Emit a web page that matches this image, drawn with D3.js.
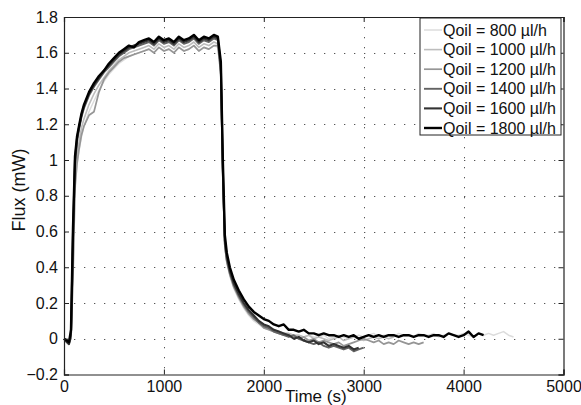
<!DOCTYPE html>
<html>
<head>
<meta charset="utf-8">
<script src="https://cdn.jsdelivr.net/npm/d3@7/dist/d3.min.js"></script>
<style>
  html, body { margin: 0; padding: 0; background: #fff; }
  svg { display: block; font-family: "Liberation Sans", Arial, Helvetica, sans-serif; }
</style>
</head>
<body>
<svg id="chart" width="581" height="405"></svg>
<script>
// ---------- DATA ----------
const seriesLabels = ["Qoil = 800 µl/h", "Qoil = 1000 µl/h", "Qoil = 1200 µl/h",
                      "Qoil = 1400 µl/h", "Qoil = 1600 µl/h", "Qoil = 1800 µl/h"];

// sampling times (s); each series uses the first N entries
const timeGrid = [0, 30, 50, 70, 90, 110, 130, 150, 175, 200,
  250, 300, 350, 400, 450, 500, 550, 600, 650, 700, 750, 800, 850, 900, 950, 1000,
  1050, 1100, 1150, 1200, 1250, 1300, 1350, 1400, 1450, 1500,
  1540, 1570, 1590, 1610, 1630, 1660, 1700, 1750, 1800, 1850, 1900, 1950, 2000,
  2050, 2100, 2150, 2200, 2250, 2300, 2350, 2400, 2450, 2500,
  2550, 2600, 2650, 2700, 2750, 2800, 2850, 2900, 2950, 3000,
  3050, 3100, 3150, 3200, 3250, 3300, 3350, 3400, 3450, 3500,
  3550, 3600, 3650, 3700, 3750, 3800, 3850, 3900, 3950, 4000,
  4050, 4100, 4150, 4200, 4250, 4300, 4350, 4400, 4450, 4500];

const flux800 = [0, 0.0, -0.01, 0.0, 0.30, 0.82, 0.97, 1.05, 1.13, 1.19,
  1.27, 1.33, 1.39, 1.44, 1.48, 1.51, 1.54, 1.56, 1.58, 1.59, 1.60,
  1.61, 1.62, 1.60, 1.63, 1.61, 1.62, 1.60, 1.63, 1.61, 1.62, 1.64, 1.61, 1.63, 1.62, 1.64,
  1.63, 1.47, 0.89, 0.51, 0.42, 0.35, 0.28, 0.22, 0.17, 0.13, 0.10, 0.08, 0.06,
  0.05, 0.04, 0.04, 0.03, 0.03, 0.02, 0.02, 0.01, 0.02, 0.01,
  0.01, 0.02, 0.00, 0.01, 0.02, 0.01, 0.00, 0.01, 0.02, 0.01,
  0.02, 0.03, 0.01, 0.02, 0.02, 0.01, 0.03, 0.02, 0.02, 0.01,
  0.03, 0.02, 0.02, 0.03, 0.01, 0.02, 0.03, 0.02, 0.02, 0.03,
  0.02, 0.01, 0.03, 0.02, 0.03, 0.02, 0.03, 0.04, 0.02, 0.01];

const flux1000 = [0, -0.01, -0.01, 0.0, 0.40, 0.90, 1.03, 1.10, 1.18, 1.23,
  1.31, 1.37, 1.42, 1.46, 1.50, 1.53, 1.56, 1.58, 1.60, 1.61, 1.62,
  1.63, 1.64, 1.62, 1.65, 1.63, 1.64, 1.62, 1.65, 1.63, 1.64, 1.66, 1.63, 1.65, 1.64, 1.66,
  1.65, 1.49, 0.91, 0.52, 0.43, 0.36, 0.29, 0.23, 0.18, 0.14, 0.11, 0.09, 0.07,
  0.06, 0.05, 0.04, 0.03, 0.03, 0.02, 0.02, 0.01, 0.02, 0.00,
  0.01, 0.00, -0.01, 0.00, 0.01, -0.01, 0.00, 0.01, 0.00, -0.01,
  0.00, 0.01, 0.00, 0.01, 0.00, 0.01];

const flux1200 = [0, -0.01, -0.02, 0.0, 0.35, 0.85, 0.98, 1.06, 1.14, 1.19,
  1.25, 1.27, 1.38, 1.45, 1.49, 1.52, 1.55, 1.57, 1.58, 1.59, 1.60,
  1.61, 1.62, 1.60, 1.63, 1.61, 1.62, 1.60, 1.63, 1.61, 1.62, 1.64, 1.61, 1.63, 1.62, 1.64,
  1.64, 1.48, 0.90, 0.52, 0.43, 0.36, 0.29, 0.23, 0.18, 0.14, 0.11, 0.09, 0.06,
  0.05, 0.04, 0.03, 0.02, 0.02, 0.01, 0.00, 0.01, -0.01, 0.00,
  -0.02, -0.01, -0.02, -0.03, -0.02, -0.04, -0.03, -0.02, -0.01, 0.00,
  -0.01, -0.02, -0.01, -0.03, -0.02, -0.03, -0.01, -0.02, -0.03, -0.02,
  -0.03, -0.02];

const flux1400 = [0, -0.02, -0.03, 0.02, 0.52, 0.97, 1.10, 1.17, 1.24, 1.29,
  1.36, 1.41, 1.45, 1.49, 1.52, 1.55, 1.58, 1.60, 1.62, 1.63, 1.64,
  1.65, 1.66, 1.64, 1.67, 1.65, 1.66, 1.64, 1.67, 1.65, 1.66, 1.68, 1.65, 1.67, 1.66, 1.68,
  1.67, 1.50, 0.92, 0.53, 0.44, 0.37, 0.30, 0.24, 0.19, 0.15, 0.12, 0.09, 0.07,
  0.06, 0.04, 0.03, 0.02, 0.01, 0.02, 0.00, -0.01, -0.02, -0.03,
  -0.02, -0.04, -0.05, -0.04, -0.05, -0.06, -0.05, -0.07, -0.06, -0.05];

const flux1600 = [0, -0.02, -0.03, 0.03, 0.58, 1.00, 1.12, 1.18, 1.25, 1.30,
  1.37, 1.42, 1.46, 1.50, 1.53, 1.56, 1.59, 1.61, 1.63, 1.64, 1.65,
  1.66, 1.67, 1.65, 1.68, 1.66, 1.67, 1.65, 1.68, 1.66, 1.67, 1.69, 1.66, 1.68, 1.67, 1.69,
  1.68, 1.52, 0.95, 0.55, 0.46, 0.38, 0.31, 0.25, 0.20, 0.16, 0.13, 0.10, 0.08,
  0.07, 0.05, 0.04, 0.03, 0.02, 0.00, 0.01, -0.01, -0.02, -0.01,
  -0.03, -0.02, -0.04, -0.03, -0.04, -0.05, -0.04, -0.06, -0.05];

const flux1800 = [0, -0.01, -0.02, 0.05, 0.62, 1.02, 1.13, 1.19, 1.26, 1.31,
  1.38, 1.43, 1.47, 1.50, 1.54, 1.57, 1.60, 1.62, 1.64, 1.63, 1.66,
  1.67, 1.68, 1.66, 1.69, 1.67, 1.68, 1.66, 1.69, 1.67, 1.68, 1.70, 1.67, 1.69, 1.68, 1.70,
  1.69, 1.55, 1.00, 0.58, 0.48, 0.40, 0.33, 0.27, 0.22, 0.18, 0.15, 0.13, 0.11,
  0.10, 0.08, 0.07, 0.08, 0.05, 0.05, 0.04, 0.05, 0.03, 0.03,
  0.02, 0.03, 0.02, 0.02, 0.01, 0.02, 0.01, 0.02, 0.00, 0.01,
  0.02, 0.01, 0.02, 0.01, 0.02, 0.02, 0.01, 0.02, 0.02, 0.01,
  0.02, 0.02, 0.01, 0.02, 0.02, 0.01, 0.03, 0.02, 0.01, 0.02,
  0.04, 0.01, 0.03, 0.02];

const xTicks = [0, 1000, 2000, 3000, 4000, 5000];
const yTicks = [-0.2, 0, 0.2, 0.4, 0.6, 0.8, 1, 1.2, 1.4, 1.6, 1.8];
const xTitle = "Time (s)";
const yTitle = "Flux (mW)";

// ---------- STYLE ----------
const seriesValues = [flux800, flux1000, flux1200, flux1400, flux1600, flux1800];
const seriesColors = ["#dcdcdc", "#bdbdbd", "#969696", "#636363", "#333333", "#000000"];
const seriesWidths = [1.5, 1.6, 1.7, 1.9, 2.1, 2.4];

const svg = d3.select("#chart");
const margin = {left: 64, top: 17, right: 581 - 563.5, bottom: 405 - 374.5};
const W = 581 - margin.left - margin.right;
const H = 405 - margin.top - margin.bottom;

const x = d3.scaleLinear().domain([0, 5000]).range([margin.left, margin.left + W]);
const y = d3.scaleLinear().domain([-0.2, 1.8]).range([margin.top + H, margin.top]);

const g = svg.append("g");

// grid
const grid = g.append("g").attr("stroke", "#555").attr("stroke-width", 1)
  .attr("stroke-dasharray", "1.3,8.7");
grid.selectAll("line.gx").data(xTicks.slice(1, -1)).join("line")
  .attr("x1", d => Math.round(x(d)) + 0.5).attr("x2", d => Math.round(x(d)) + 0.5)
  .attr("y1", y(1.8)).attr("y2", y(-0.2));
grid.selectAll("line.gy").data(yTicks.slice(1, -1)).join("line")
  .attr("y1", d => Math.round(y(d)) + 0.5).attr("y2", d => Math.round(y(d)) + 0.5)
  .attr("x1", x(0)).attr("x2", x(5000));

// lines
const line = d3.line().x(d => x(d[0])).y(d => y(d[1]));
seriesValues.forEach((vals, i) => {
  const pts = vals.map((v, k) => [timeGrid[k], v]);
  g.append("path").datum(pts).attr("d", line)
    .attr("fill", "none").attr("stroke", seriesColors[i])
    .attr("stroke-width", seriesWidths[i]).attr("stroke-linejoin", "round");
});

// axes (MATLAB box style, inward ticks)
const tickLen = 5;
const axB = d3.axisBottom(x).tickValues(xTicks).tickSize(-tickLen).tickPadding(6).tickFormat(d3.format("d"));
const axT = d3.axisTop(x).tickValues(xTicks).tickSize(-tickLen).tickFormat("");
const axL = d3.axisLeft(y).tickValues(yTicks).tickSize(-tickLen).tickPadding(6).tickFormat(d => d3.format("")(+d.toFixed(1)).replace("-", "\u2212"));
const axR = d3.axisRight(y).tickValues(yTicks).tickSize(-tickLen).tickFormat("");

function styleAxis(sel) {
  sel.select(".domain").attr("stroke", "#222").attr("stroke-width", 1.2);
  sel.selectAll(".tick line").attr("stroke", "#222");
  sel.selectAll("text").attr("fill", "#111").style("font-size", "16px")
    .style("font-family", "'Liberation Sans', Arial, sans-serif");
}
g.append("g").attr("transform", `translate(0,${y(-0.2)})`).call(axB).call(styleAxis);
g.append("g").attr("transform", `translate(0,${y(1.8)})`).call(axT).call(styleAxis);
g.append("g").attr("transform", `translate(${x(0)},0)`).call(axL).call(styleAxis);
g.append("g").attr("transform", `translate(${x(5000)},0)`).call(axR).call(styleAxis);

// axis titles
svg.append("text").attr("x", (x(0) + x(5000)) / 2 + 2).attr("y", 402)
  .attr("text-anchor", "middle").style("font-size", "17px").attr("fill", "#111").text(xTitle);
svg.append("text").attr("transform", `translate(25,190) rotate(-90)`)
  .attr("text-anchor", "middle").style("font-size", "18px").attr("fill", "#111").text(yTitle);

// legend
const leg = svg.append("g");
const lx = 420, ly = 18, lw = 141, rowH = 19.6;
leg.append("rect").attr("x", lx).attr("y", ly).attr("width", lw).attr("height", 117)
  .attr("fill", "#fff").attr("stroke", "#222").attr("stroke-width", 1);
seriesLabels.forEach((lab, i) => {
  const cy = ly + 12 + i * rowH;
  leg.append("line").attr("x1", lx + 4).attr("x2", lx + 22).attr("y1", cy).attr("y2", cy)
    .attr("stroke", seriesColors[i]).attr("stroke-width", seriesWidths[i]);
  leg.append("text").attr("x", lx + 23).attr("y", cy).attr("dy", "0.35em")
    .style("font-size", "16px").attr("fill", "#111").text(lab);
});
</script>
</body>
</html>
